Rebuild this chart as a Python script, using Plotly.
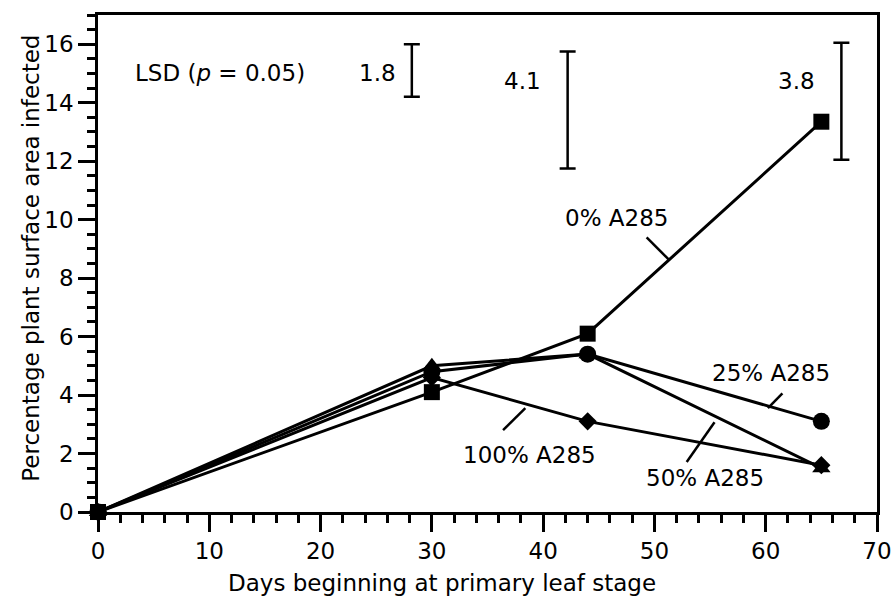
import plotly.graph_objects as go

days = [0, 30, 44, 65]
pct_0 = [0, 4.1, 6.1, 13.35]
pct_25 = [0, 4.8, 5.4, 3.1]
pct_50 = [0, 5.0, 5.4, 1.5]
pct_100 = [0, 4.6, 3.1, 1.6]

series_names = ["0% A285", "25% A285", "50% A285", "100% A285"]
series_symbols = ["square", "circle", "triangle-up", "diamond"]
series_sizes = [16, 17, 16, 14]

lsd_labels = ["1.8", "4.1", "3.8"]
lsd_x = [28.2, 42.2, 66.8]
lsd_low = [14.2, 11.75, 12.05]
lsd_high = [16.0, 15.75, 16.05]

FONT = "DejaVu Sans, Liberation Sans, Arial, sans-serif"
FS = 23
fig = go.Figure()

for name, ys, sym, sz in zip(series_names, [pct_0, pct_25, pct_50, pct_100],
                             series_symbols, series_sizes):
    fig.add_trace(go.Scatter(
        x=days, y=ys, mode="lines+markers", name=name,
        line=dict(color="black", width=3),
        marker=dict(symbol=sym, size=sz, color="black"),
        cliponaxis=False, showlegend=False))

# LSD bars
for x, lo, hi in zip(lsd_x, lsd_low, lsd_high):
    mid = (lo + hi) / 2
    fig.add_trace(go.Scatter(
        x=[x], y=[mid], mode="markers",
        marker=dict(size=0.1, color="rgba(0,0,0,0)"),
        error_y=dict(type="data", symmetric=True, array=[(hi - lo) / 2],
                     color="black", thickness=2.5, width=8),
        showlegend=False, cliponaxis=False))

annotations = []
def txt(x, y, s, size=FS, **kw):
    annotations.append(dict(x=x, y=y, xref="x", yref="y", text=s, showarrow=False,
                            font=dict(family=FONT, size=size, color="black"), **kw))

txt(11.0, 15.0, "LSD (<i>p</i> = 0.05)")
txt(25.1, 15.0, lsd_labels[0])
txt(38.1, 14.75, lsd_labels[1])
txt(62.8, 14.75, lsd_labels[2])

txt(46.6, 10.07, series_names[0])
txt(60.5, 4.74, series_names[1])
txt(54.5, 1.16, series_names[2])
txt(38.8, 1.95, series_names[3])

# leader lines
leaders = [((49.3, 9.39), (51.3, 8.63)),
           ((61.5, 4.06), (60.2, 3.55)),
           ((52.9, 1.71), (55.4, 3.07)),
           ((36.4, 2.80), (38.4, 3.55))]
shapes = []
for (x0, y0), (x1, y1) in leaders:
    shapes.append(dict(type="line", x0=x0, y0=y0, x1=x1, y1=y1, xref="x", yref="y",
                       line=dict(color="black", width=2.5)))

# axis titles
annotations.append(dict(x=0.441, y=-0.143, xref="paper", yref="paper",
                        text="Days beginning at primary leaf stage", showarrow=False,
                        font=dict(family=FONT, size=FS, color="black"),
                        xanchor="center", yanchor="middle"))
annotations.append(dict(x=-0.087, y=0.51, xref="paper", yref="paper",
                        text="Percentage plant surface area infected", showarrow=False,
                        textangle=-90,
                        font=dict(family=FONT, size=FS, color="black"),
                        xanchor="center", yanchor="middle"))

fig.update_layout(
    width=891, height=596,
    margin=dict(l=98, r=14, t=15, b=84),
    plot_bgcolor="white", paper_bgcolor="white",
    font=dict(family=FONT, size=FS, color="black"),
    annotations=annotations, shapes=shapes,
    xaxis=dict(range=[0, 70], tickvals=list(range(0, 71, 10)), automargin=False,
               ticklabeloverflow="allow",
               showgrid=False, zeroline=False, showline=True, linecolor="black",
               linewidth=2.5, mirror=True, ticks="outside", ticklen=17, tickwidth=2.5,
               tickcolor="black",
               minor=dict(dtick=2, ticks="outside", ticklen=8, tickwidth=2.5,
                          tickcolor="black", showgrid=False)),
    yaxis=dict(range=[0, 17], tickvals=list(range(0, 17, 2)), automargin=False,
               ticklabeloverflow="allow",
               showgrid=False, zeroline=False, showline=True, linecolor="black",
               linewidth=2.5, mirror=True, ticks="outside", ticklen=17, tickwidth=2.5,
               tickcolor="black",
               minor=dict(dtick=0.5, ticks="outside", ticklen=8, tickwidth=2.5,
                          tickcolor="black", showgrid=False)),
)

# remove the browser's default 8px body margin so the figure fills the window
fig.write_html("out.html",
               config={"displayModeBar": False},
               post_script="document.body.style.margin='0';document.body.style.overflow='hidden';")
